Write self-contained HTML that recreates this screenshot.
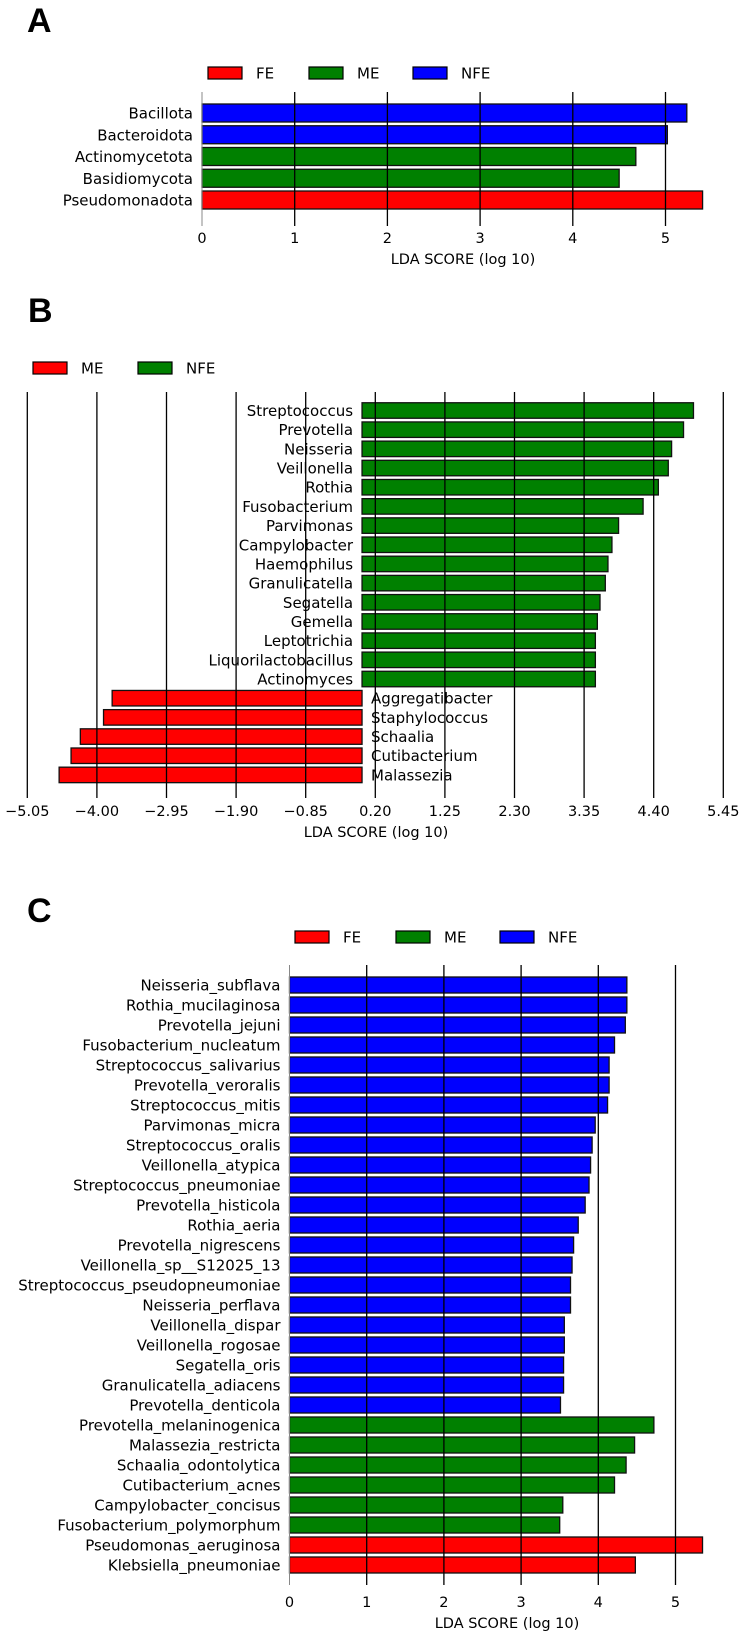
<!DOCTYPE html>
<html><head><meta charset="utf-8">
<style>
html,body{margin:0;padding:0;background:#fff;}
svg{display:block;font-family:"DejaVu Sans","Liberation Sans",sans-serif;}
.lbl{font-size:15px;fill:#000;}
.tick{font-size:14.5px;fill:#000;}
.panel{font-family:"Liberation Sans",sans-serif;font-weight:bold;font-size:34px;}
</style></head>
<body>
<svg id="fig" width="743" height="1637" viewBox="0 0 743 1637" xmlns="http://www.w3.org/2000/svg">
<text class="panel" x="27" y="32">A</text>
<text class="panel" x="28" y="322">B</text>
<text class="panel" x="27" y="922">C</text>
<g id="pa"></g>
<g id="pb"></g>
<g id="pc"></g>
</svg>
<script>
const COLORS3 = {FE:'#ff0000', ME:'#008000', NFE:'#0000ff'};
const COLORS2 = {ME:'#ff0000', NFE:'#008000'};
// Panel A data
const aCategories = ['Bacillota','Bacteroidota','Actinomycetota','Basidiomycota','Pseudomonadota'];
const aValues = [5.23, 5.02, 4.68, 4.50, 5.40];
const aGroups = ['NFE','NFE','ME','ME','FE'];
const aTicks = [0,1,2,3,4,5];
const aLegend = ['FE','ME','NFE'];
// Panel B data
const bCategories = ['Streptococcus','Prevotella','Neisseria','Veillonella','Rothia','Fusobacterium','Parvimonas','Campylobacter','Haemophilus','Granulicatella','Segatella','Gemella','Leptotrichia','Liquorilactobacillus','Actinomyces','Aggregatibacter','Staphylococcus','Schaalia','Cutibacterium','Malassezia'];
const bValues = [5.00,4.85,4.67,4.62,4.47,4.24,3.87,3.77,3.71,3.67,3.59,3.55,3.52,3.52,3.52,-3.77,-3.90,-4.25,-4.39,-4.57];
const bGroups = ['NFE','NFE','NFE','NFE','NFE','NFE','NFE','NFE','NFE','NFE','NFE','NFE','NFE','NFE','NFE','ME','ME','ME','ME','ME'];
const bTicks = [-5.05,-4.00,-2.95,-1.90,-0.85,0.20,1.25,2.30,3.35,4.40,5.45];
const bTickLabels = ['\u22125.05','\u22124.00','\u22122.95','\u22121.90','\u22120.85','0.20','1.25','2.30','3.35','4.40','5.45'];
const bLegend = ['ME','NFE'];
// Panel C data
const cCategories = ['Neisseria_subflava','Rothia_mucilaginosa','Prevotella_jejuni','Fusobacterium_nucleatum','Streptococcus_salivarius','Prevotella_veroralis','Streptococcus_mitis','Parvimonas_micra','Streptococcus_oralis','Veillonella_atypica','Streptococcus_pneumoniae','Prevotella_histicola','Rothia_aeria','Prevotella_nigrescens','Veillonella_sp__S12025_13','Streptococcus_pseudopneumoniae','Neisseria_perflava','Veillonella_dispar','Veillonella_rogosae','Segatella_oris','Granulicatella_adiacens','Prevotella_denticola','Prevotella_melaninogenica','Malassezia_restricta','Schaalia_odontolytica','Cutibacterium_acnes','Campylobacter_concisus','Fusobacterium_polymorphum','Pseudomonas_aeruginosa','Klebsiella_pneumoniae'];
const cValues = [4.37,4.37,4.35,4.21,4.14,4.14,4.12,3.96,3.92,3.90,3.88,3.83,3.74,3.68,3.66,3.64,3.64,3.56,3.56,3.55,3.55,3.51,4.72,4.47,4.36,4.21,3.54,3.50,5.35,4.48];
const cGroups = ['NFE','NFE','NFE','NFE','NFE','NFE','NFE','NFE','NFE','NFE','NFE','NFE','NFE','NFE','NFE','NFE','NFE','NFE','NFE','NFE','NFE','NFE','ME','ME','ME','ME','ME','ME','FE','FE'];
const cTicks = [0,1,2,3,4,5];
const cLegend = ['FE','ME','NFE'];

const NS='http://www.w3.org/2000/svg';
function mk(parent, tag, attrs){const e=document.createElementNS(NS,tag);for(const k in attrs)e.setAttribute(k,attrs[k]);parent.appendChild(e);return e;}

function drawPanel(g, cfg){
  const COLORS = cfg.colors;
  const x = v => cfg.x0 + (v - cfg.v0) * cfg.unit;
  const y = i => cfg.yFirst + i * cfg.step;
  cfg.legend.forEach((name,i)=>{
    const r = mk(g,'rect',{x:cfg.legX[i],y:cfg.legY,width:34,height:12,fill:COLORS[name],stroke:'#000','stroke-width':1.2});
    
    
    const t = mk(g,'text',{x:cfg.legX[i]+48,y:cfg.legY+11.5,'class':'lbl'});
    t.textContent=name;
    
    
  });
  const zx = x(0);
  cfg.cats.forEach((c,i)=>{
    const v = cfg.vals[i];
    const xa = Math.min(zx, x(v)), w = Math.abs(x(v)-zx);
    const cy = y(i);
    const r = mk(g,'rect',{x:xa,y:cy-cfg.bh/2,width:w,height:cfg.bh,fill:COLORS[cfg.groups[i]],stroke:'#111','stroke-width':1.3});
    
    
    const neg = v < 0;
    const t = mk(g,'text',{x: neg ? zx+9 : zx-9, y: cy+5.5, 'text-anchor': neg ? 'start':'end', 'class':'lbl'});
    t.textContent = c;
    
    
  });
  cfg.ticks.forEach((tv,i)=>{
    const gx = x(tv);
    const isZero = cfg.grayZero && tv===0;
    const l = mk(g,'line',{x1:gx,x2:gx,y1:cfg.gTop,y2:cfg.gBot,stroke:isZero?'#888':'#000','stroke-width':isZero?1:1.3});
    
    
    const t = mk(g,'text',{x:gx,y:cfg.tickY,'text-anchor':'middle','class':'tick'});
    t.textContent = cfg.tickLabels ? cfg.tickLabels[i] : String(tv);
    
    
  });
  const xl = mk(g,'text',{x:cfg.xlX,y:cfg.xlY,'text-anchor':'middle','class':'tick'});
  xl.textContent='LDA SCORE (log 10)';
  
  
}

drawPanel(document.getElementById('pa'),{
  colors:COLORS3,
  cats:aCategories, vals:aValues, groups:aGroups, ticks:aTicks, legend:aLegend,
  x0:202, v0:0, unit:92.7, yFirst:113, step:21.75, bh:18, gTop:92, gBot:226, grayZero:true,
  tickY:243, xlX:463, xlY:264, legX:[208,309,413], legY:67
});
drawPanel(document.getElementById('pb'),{
  colors:COLORS2,
  cats:bCategories, vals:bValues, groups:bGroups, ticks:bTicks, tickLabels:bTickLabels, legend:bLegend,
  x0:27.3, v0:-5.05, unit:69.6/1.05, yFirst:410.5, step:19.18, bh:15.5, gTop:392, gBot:798, grayZero:false,
  tickY:816, xlX:376, xlY:837, legX:[33,138], legY:362
});
drawPanel(document.getElementById('pc'),{
  colors:COLORS3,
  cats:cCategories, vals:cValues, groups:cGroups, ticks:cTicks, legend:cLegend,
  x0:289.5, v0:0, unit:77.2, yFirst:985, step:20, bh:16, gTop:965, gBot:1585, grayZero:true,
  tickY:1607, xlX:507, xlY:1628, legX:[295,396,500], legY:931
});
</script>
</body></html>
